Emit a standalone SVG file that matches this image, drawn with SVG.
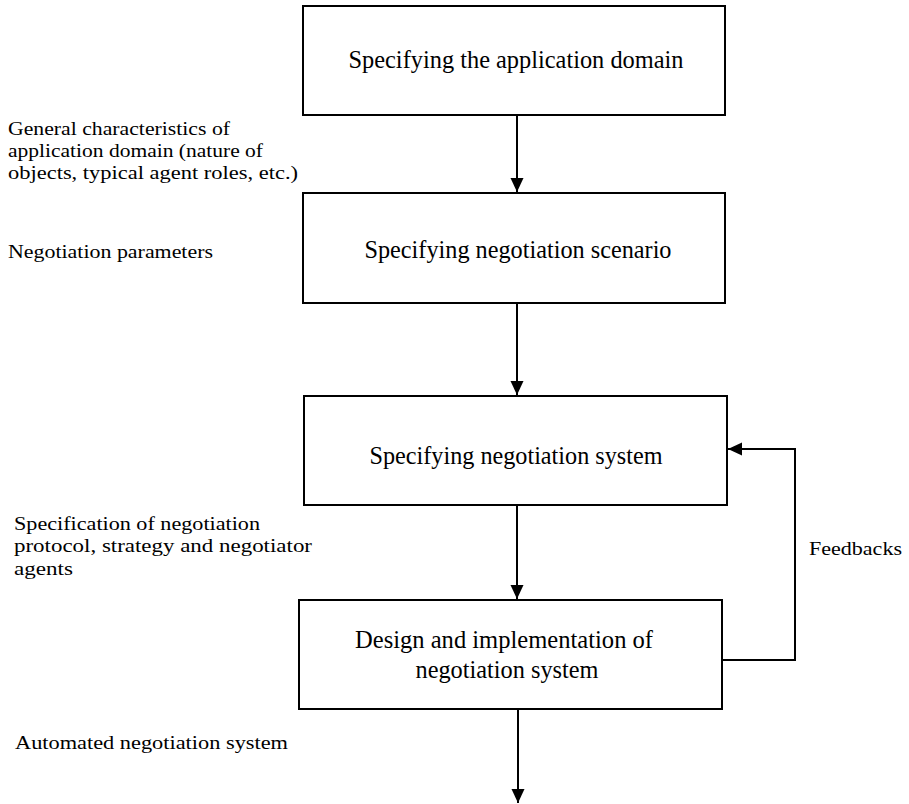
<svg xmlns="http://www.w3.org/2000/svg" width="909" height="804" viewBox="0 0 909 804">
<defs>
<style>
.box{fill:#fff;stroke:#000;stroke-width:2}
.bt{font-family:"Liberation Serif","Times New Roman",serif;font-size:26px;fill:#000;text-anchor:middle}
.lt{font-family:"Liberation Serif","Times New Roman",serif;font-size:19px;fill:#000}
.con{fill:none;stroke:#000;stroke-width:2}
</style>
<marker id="ah" markerUnits="userSpaceOnUse" markerWidth="15" markerHeight="15" viewBox="0 0 15 15" refX="14" refY="7.5" orient="auto">
<path d="M0,1 L14,7.5 L0,14 Z" fill="#000"/>
</marker>
</defs>
<rect width="909" height="804" fill="#fff"/>
<g id="connectors">
<line class="con" x1="517" y1="115" x2="517" y2="192" marker-end="url(#ah)"/>
<line class="con" x1="517" y1="303" x2="517" y2="395" marker-end="url(#ah)"/>
<line class="con" x1="517" y1="505" x2="517" y2="599" marker-end="url(#ah)"/>
<line class="con" x1="518" y1="709" x2="518" y2="803" marker-end="url(#ah)"/>
<path class="con" d="M722,660 H795 V449 H728" marker-end="url(#ah)"/>
</g>
<g id="node-domain">
<rect class="box" x="303" y="6" width="422" height="109"/>
<text class="bt" x="516" y="68" textLength="335" lengthAdjust="spacingAndGlyphs">Specifying the application domain</text>
</g>
<g id="node-scenario">
<rect class="box" x="303" y="193" width="422" height="110"/>
<text class="bt" x="518" y="258" textLength="307" lengthAdjust="spacingAndGlyphs">Specifying negotiation scenario</text>
</g>
<g id="node-system">
<rect class="box" x="304" y="396" width="423" height="109"/>
<text class="bt" x="516" y="464" textLength="293" lengthAdjust="spacingAndGlyphs">Specifying negotiation system</text>
</g>
<g id="node-design">
<rect class="box" x="299" y="600" width="423" height="109"/>
<text class="bt" x="504" y="648" textLength="298" lengthAdjust="spacingAndGlyphs">Design and implementation of</text>
<text class="bt" x="507" y="678" textLength="183" lengthAdjust="spacingAndGlyphs">negotiation system</text>
</g>
<g id="labels">
<text class="lt" x="8" y="135" textLength="222" lengthAdjust="spacingAndGlyphs">General characteristics of</text>
<text class="lt" x="8" y="157" textLength="255" lengthAdjust="spacingAndGlyphs">application domain (nature of</text>
<text class="lt" x="8" y="179" textLength="290" lengthAdjust="spacingAndGlyphs">objects, typical agent roles, etc.)</text>
<text class="lt" x="8" y="258" textLength="205" lengthAdjust="spacingAndGlyphs">Negotiation parameters</text>
<text class="lt" x="14" y="530" textLength="246" lengthAdjust="spacingAndGlyphs">Specification of negotiation</text>
<text class="lt" x="14" y="552" textLength="298" lengthAdjust="spacingAndGlyphs">protocol, strategy and negotiator</text>
<text class="lt" x="14" y="575" textLength="59" lengthAdjust="spacingAndGlyphs">agents</text>
<text class="lt" x="15" y="749" textLength="273" lengthAdjust="spacingAndGlyphs">Automated negotiation system</text>
<text class="lt" x="809" y="555" textLength="93" lengthAdjust="spacingAndGlyphs">Feedbacks</text>
</g>
</svg>
